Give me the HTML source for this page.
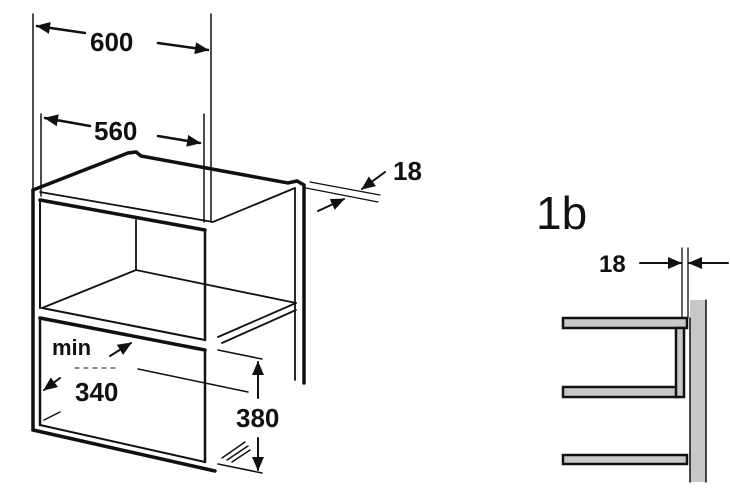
<!DOCTYPE html>
<html><head><meta charset="utf-8"><style>body{margin:0;background:#fff}svg{display:block}</style></head><body>
<svg width="730" height="502" viewBox="0 0 730 502" xmlns="http://www.w3.org/2000/svg">
<defs><marker id="b" markerWidth="14" markerHeight="12" refX="13" refY="6" orient="auto" markerUnits="userSpaceOnUse"><path d="M0,0 L14,6 L0,12 Z" fill="#111"/></marker></defs>
<g stroke="#111" fill="none" stroke-linecap="round">
<line x1="33" y1="14" x2="33" y2="190" stroke-width="1.5"/>
<line x1="211" y1="14" x2="211" y2="222" stroke-width="1.5"/>
<line x1="85" y1="33" x2="37" y2="26" stroke-width="2.5" marker-end="url(#b)"/>
<line x1="158" y1="43" x2="208" y2="50" stroke-width="2.5" marker-end="url(#b)"/>
<line x1="41" y1="114" x2="41" y2="196" stroke-width="1.5"/>
<line x1="204" y1="114" x2="204" y2="222" stroke-width="1.5"/>
<line x1="90" y1="126" x2="45" y2="118" stroke-width="2.5" marker-end="url(#b)"/>
<line x1="158" y1="136" x2="200" y2="143" stroke-width="2.5" marker-end="url(#b)"/>
<line x1="310" y1="182" x2="380" y2="195" stroke-width="1.3"/>
<line x1="306" y1="188" x2="378" y2="202" stroke-width="1.3"/>
<line x1="385" y1="172" x2="362" y2="189" stroke-width="2" marker-end="url(#b)"/>
<line x1="318" y1="211" x2="344" y2="199" stroke-width="2" marker-end="url(#b)"/>
<path d="M33,190 L128,153 L136,152 L141,156 L288,183 L297,181 L304,185 L304,383" stroke-width="3.5"/>
<line x1="33" y1="190" x2="33" y2="430" stroke-width="3.5"/>
<line x1="295" y1="188" x2="295" y2="380" stroke-width="1.8"/>
<path d="M40,192 L213,222 L295,188" stroke-width="1.8"/>
<line x1="40" y1="200" x2="205" y2="230" stroke-width="3.5"/>
<line x1="205" y1="230" x2="205" y2="340" stroke-width="2.5"/>
<line x1="40" y1="200" x2="40" y2="308" stroke-width="2"/>
<line x1="136" y1="220" x2="136" y2="270" stroke-width="1.8"/>
<path d="M42,308 L136,270 L296,303" stroke-width="1.8"/>
<line x1="42" y1="308" x2="205" y2="340" stroke-width="2"/>
<line x1="218" y1="337" x2="296" y2="303" stroke-width="1.8"/>
<line x1="222" y1="343" x2="296" y2="310" stroke-width="1.8"/>
<line x1="40" y1="318" x2="205" y2="350" stroke-width="3.5"/>
<line x1="205" y1="350" x2="205" y2="462" stroke-width="2.5"/>
<line x1="40" y1="318" x2="40" y2="425" stroke-width="2.5"/>
<line x1="40" y1="425" x2="205" y2="462" stroke-width="2"/>
<line x1="33" y1="430" x2="215" y2="471" stroke-width="3.5"/>
<line x1="218" y1="350" x2="262" y2="359" stroke-width="1.5"/>
<line x1="258" y1="398" x2="258" y2="362" stroke-width="2" marker-end="url(#b)"/>
<line x1="138" y1="369" x2="248" y2="392" stroke-width="1.5"/>
<line x1="75" y1="368" x2="117" y2="368" stroke-width="1" stroke-dasharray="4,5"/>
<line x1="258" y1="438" x2="258" y2="470" stroke-width="2" marker-end="url(#b)"/>
<line x1="222" y1="458" x2="245" y2="442" stroke-width="1.5"/>
<line x1="227" y1="460" x2="248" y2="446" stroke-width="1.5"/>
<line x1="232" y1="462" x2="250" y2="450" stroke-width="1.5"/>
<line x1="218" y1="464" x2="262" y2="473" stroke-width="1.5"/>
<line x1="110" y1="356" x2="131" y2="343" stroke-width="2" marker-end="url(#b)"/>
<line x1="60" y1="378" x2="44" y2="390" stroke-width="2" marker-end="url(#b)"/>
<line x1="44" y1="420" x2="60" y2="412" stroke-width="1.5"/>
<rect x="690" y="300" width="16" height="182" fill="#c8c8c8" stroke="none"/>
<line x1="706" y1="300" x2="706" y2="482" stroke-width="1.5"/>
<line x1="690" y1="318" x2="690" y2="482" stroke-width="1.5"/>
<line x1="682" y1="248" x2="682" y2="318" stroke-width="1.3"/>
<line x1="688" y1="248" x2="688" y2="318" stroke-width="1.3"/>
<rect x="563" y="318" width="124" height="10" fill="#c8c8c8" stroke-width="2.5"/>
<rect x="563" y="387" width="115" height="10" fill="#c8c8c8" stroke-width="2.5"/>
<rect x="676" y="328" width="8" height="69" fill="#c8c8c8" stroke-width="2.5"/>
<rect x="563" y="455" width="124" height="9" fill="#c8c8c8" stroke-width="2.5"/>
<line x1="640" y1="263" x2="681" y2="263" stroke-width="2" marker-end="url(#b)"/>
<line x1="728" y1="263" x2="689" y2="263" stroke-width="2" marker-end="url(#b)"/>
</g>
<g font-family="Liberation Sans, sans-serif" font-weight="bold" fill="#111">
<text x="90" y="51" font-size="26">600</text>
<text x="94" y="140" font-size="26">560</text>
<text x="393" y="180" font-size="26">18</text>
<text x="52" y="355" font-size="22">min</text>
<text x="75" y="401" font-size="26">340</text>
<text x="236" y="427" font-size="26">380</text>
<text x="599" y="272" font-size="24">18</text>
<text x="536" y="229" font-size="46" font-weight="normal">1b</text>
</g>
</svg>
</body></html>
